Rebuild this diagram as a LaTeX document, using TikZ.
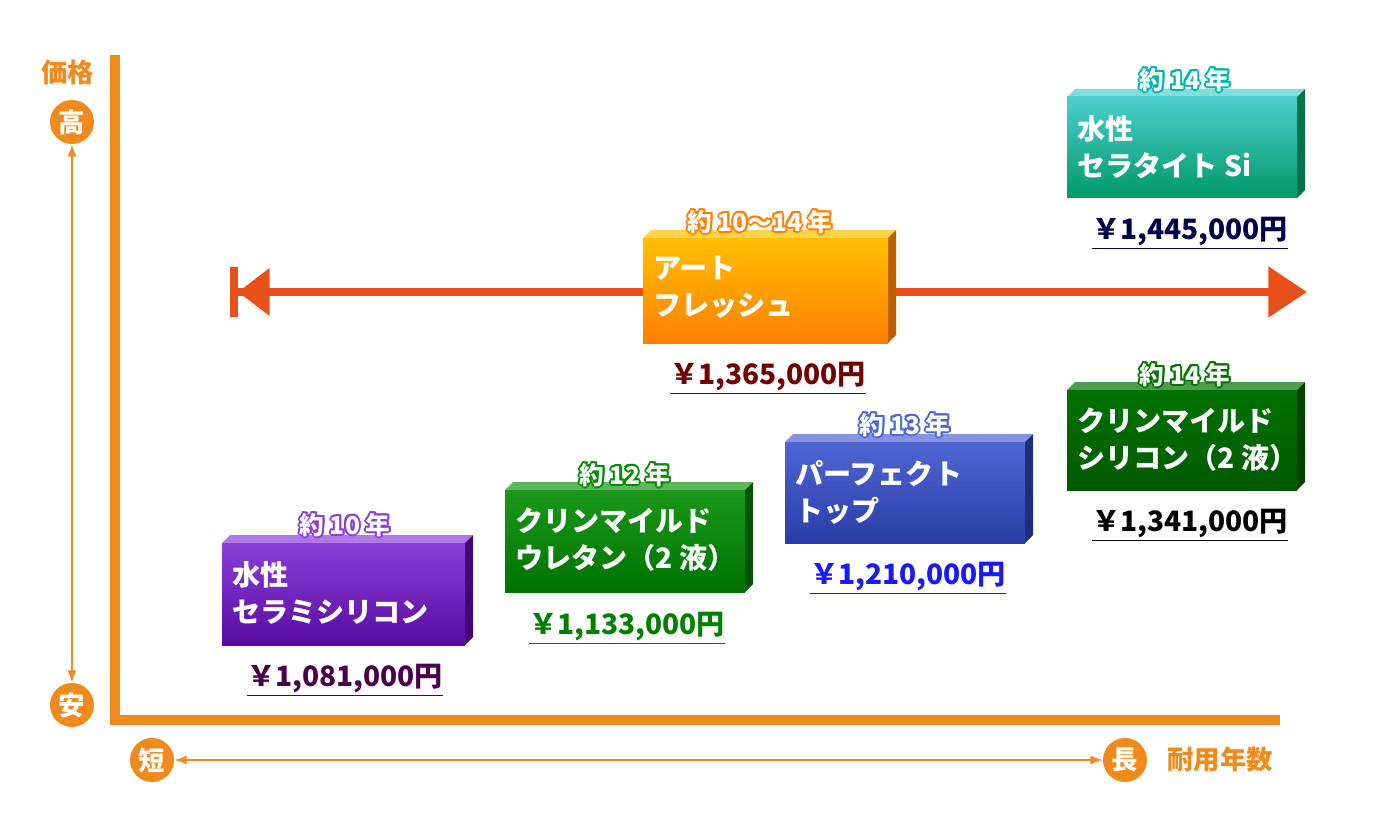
\documentclass[tikz,border=0pt]{standalone}
\usepackage{fontspec}
\setmainfont{Noto Sans CJK JP}
\usetikzlibrary{arrows.meta}
\definecolor{axisorange}{HTML}{F08A1C}
\definecolor{arrowred}{HTML}{E8501A}
\definecolor{purpletop}{HTML}{8A3FD8}
\definecolor{purplebot}{HTML}{5A0AA0}
\definecolor{bluetop}{HTML}{4E66D4}
\definecolor{bluebot}{HTML}{2A3CA8}
\tikzset{
  axisline/.style={axisorange, line width=8pt*0.75},
  badge/.style={circle, fill=axisorange, text=white, minimum size=0.88cm, inner sep=0pt, font=\bfseries\fontsize{15}{15}\selectfont},
  boxtext/.style={text=white, anchor=north west, align=left, font=\bfseries\fontsize{16}{21}\selectfont},
  yearlabel/.style={font=\bfseries\fontsize{14}{14}\selectfont},
  price/.style={font=\bfseries\fontsize{16}{16}\selectfont}
}
% box: name, x1, y1, x2, y2, top colour, bottom colour
\newcommand\paintbox[7]{%
  \fill[#6!70!white] (#2,#3) -- ++(8,-8) -- (#4+8,#3-8) -- (#4,#3) -- cycle;
  \fill[#7!75!black] (#4,#3) -- (#4+8,#3-8) -- (#4+8,#5-8) -- (#4,#5) -- cycle;
  \shade[top color=#6, bottom color=#7] (#2,#3) rectangle (#4,#5);
  \coordinate (#1) at (#2,#3);
}
% outlined year label: name, x, y, outline colour, text
\newcommand\yearat[5]{%
  \foreach \dx/\dy in {-2/0,2/0,0/-2,0/2,-1.5/-1.5,1.5/1.5,-1.5/1.5,1.5/-1.5}
    \node[yearlabel, text=#4] at (#2+\dx,#3+\dy) {#5};
  \node[yearlabel, text=white] (#1) at (#2,#3) {#5};
}
\begin{document}
\begin{tikzpicture}[x=0.02cm, y=-0.02cm]
\useasboundingbox (0,0) rectangle (1377,821);

% axes
\draw[axisline] (115,55) -- (115,720) -- (1280,720);
\node[text=axisorange, font=\bfseries\fontsize{15}{15}\selectfont] (price) at (68,72) {価格};
\node[badge] (high) at (72,122) {高};
\node[badge] (low) at (72,705) {安};
\node[badge] (short) at (152,760) {短};
\node[badge] (long) at (1125,760) {長};
\node[text=axisorange, font=\bfseries\fontsize{15}{15}\selectfont] (years) at (1220,760) {耐用年数};
\draw[axisorange, line width=1.2pt, {Latex[length=7pt]}-{Latex[length=7pt]}] (high) -- (low);
\draw[axisorange, line width=1.2pt, {Latex[length=7pt]}-{Latex[length=7pt]}] (short) -- (long);

% range arrow
\coordinate (rangeL) at (230,292);
\coordinate (rangeR) at (1307,292);
\draw[arrowred, line width=4.5pt, {Bar[width=28pt]Triangle[length=18pt,width=26pt]}-{Triangle[length=22pt,width=28pt]}] (rangeL) -- (rangeR);

% products
\paintbox{art}{643}{238}{888}{343}{orange!50!yellow}{orange}
\yearat{artyear}{760}{222}{orange}{約 10～14 年}
\node[boxtext] at ([shift={(4,12)}]art) {アート\\フレッシュ};
\node[price, text=red!45!black] (artprice) at (768,378) {\underline{￥1,365,000円}};

\paintbox{teal}{1067}{97}{1297}{198}{teal!55!cyan!70!white}{teal!80!green}
\yearat{tealyear}{1185}{80}{teal!60!cyan}{約 14 年}
\node[boxtext] at ([shift={(4,12)}]teal) {水性\\セラタイト Si};
\node[price, text=blue!30!black] (tealprice) at (1190,233) {\underline{￥1,445,000円}};

\paintbox{dkgreen}{1067}{390}{1297}{490}{green!45!black}{green!35!black}
\yearat{dkgreenyear}{1185}{375}{green!45!black}{約 14 年}
\node[boxtext] at ([shift={(4,12)}]dkgreen) {クリンマイルド\\シリコン（2 液）};
\node[price, text=black] (dkgreenprice) at (1190,525) {\underline{￥1,341,000円}};

\paintbox{blue}{785}{442}{1025}{543}{bluetop}{bluebot}
\yearat{blueyear}{905}{425}{bluetop}{約 13 年}
\node[boxtext] at ([shift={(4,12)}]blue) {パーフェクト\\トップ};
\node[price, text=blue!90!white] (blueprice) at (908,578) {\underline{￥1,210,000円}};

\paintbox{green}{505}{490}{745}{592}{green!55!black!90!white}{green!45!black}
\yearat{greenyear}{625}{475}{green!55!black}{約 12 年}
\node[boxtext] at ([shift={(4,12)}]green) {クリンマイルド\\ウレタン（2 液）};
\node[price, text=green!50!black] (greenprice) at (627,628) {\underline{￥1,133,000円}};

\paintbox{purple}{222}{543}{465}{645}{purpletop}{purplebot}
\yearat{purpleyear}{345}{525}{purpletop}{約 10 年}
\node[boxtext] at ([shift={(4,12)}]purple) {水性\\セラミシリコン};
\node[price, text=violet!60!black] (purpleprice) at (345,680) {\underline{￥1,081,000円}};
\end{tikzpicture}
\end{document}
